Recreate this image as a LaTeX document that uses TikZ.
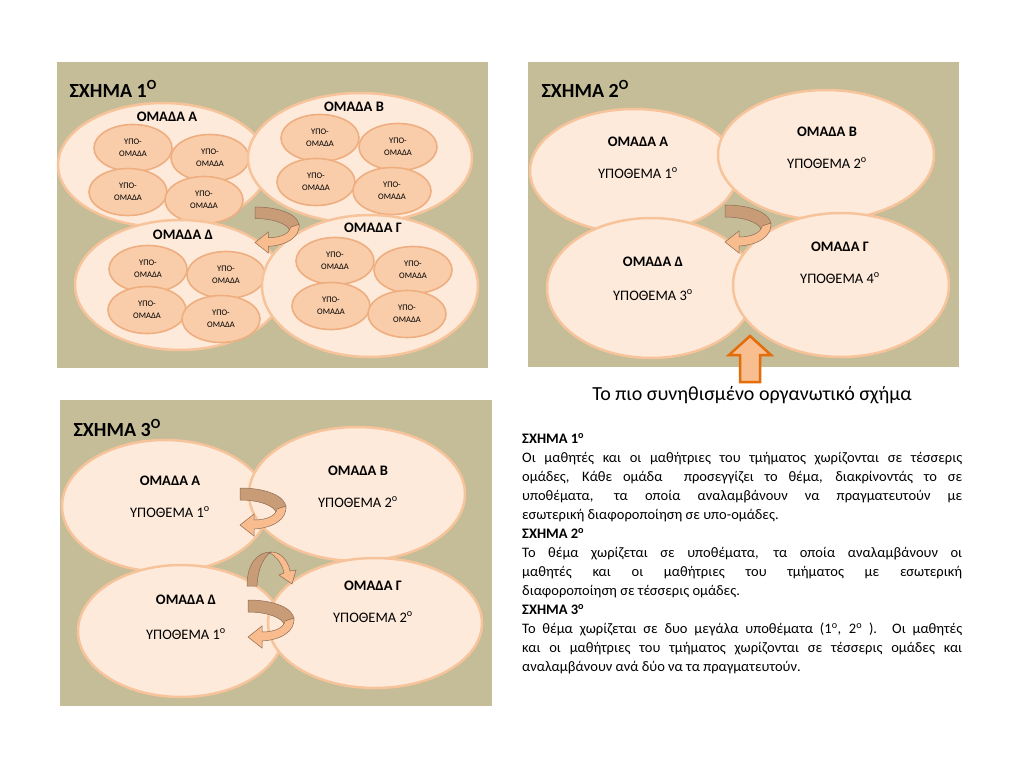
\documentclass[tikz,border=0pt]{standalone}
\usepackage{fontspec}
\setmainfont{Carlito}
\usetikzlibrary{shapes.geometric}
\definecolor{panelbg}{HTML}{C4BD97}
\definecolor{grpfill}{HTML}{FDEADA}
\definecolor{grpline}{HTML}{F7C39A}
\definecolor{subfill}{HTML}{F9CDAA}
\definecolor{subline}{HTML}{EEAE80}
\definecolor{arrdark}{HTML}{C99C78}
\definecolor{arrlight}{HTML}{F9BC8E}
\definecolor{arredge}{HTML}{8E6B52}
\definecolor{upline}{HTML}{E46C0A}
\definecolor{upfill}{HTML}{F9BE8F}
\hyphenpenalty=10000
\exhyphenpenalty=10000
\tikzset{
  panel/.style={fill=panelbg,draw=none},
  group/.style={ellipse,draw=grpline,line width=2.5pt,fill=grpfill,inner sep=0pt},
  sub/.style={ellipse,draw=subline,line width=1.6pt,fill=subfill,inner sep=0pt,
    minimum width=78pt,minimum height=47pt,align=center,
    font=\fontsize{8.5}{11.5}\selectfont},
  title/.style={anchor=west,font=\fontsize{20}{24}\selectfont\bfseries},
  grplabel/.style={font=\fontsize{14.5}{17}\selectfont\bfseries},
  topic/.style={font=\fontsize{14.5}{17}\selectfont},
  body/.style={anchor=north west,inner sep=0pt,text width=440pt,align=justify,
    font=\fontsize{14.5}{19}\selectfont},
  uturn/.pic={
    \filldraw[fill=arrdark,draw=arredge,line width=0.5pt]
      (0,0) .. controls (26,0) and (46,8) .. (46,20) -- (36,24)
      .. controls (34,18) and (20,12) .. (0,12) -- cycle;
    \filldraw[fill=arrlight,draw=arredge,line width=0.5pt]
      (46,18) .. controls (47,32) and (32,40) .. (14,41) -- (14,48) -- (0,37)
      -- (14,26) -- (14,32) .. controls (26,32) and (36,28) .. (37,21) -- cycle;
  },
  arch/.pic={
    \filldraw[fill=arrdark,draw=arredge,line width=0.5pt]
      (0,34) .. controls (0,12) and (10,0) .. (24,0)
      .. controls (18,4) and (11,14) .. (10,34) -- cycle;
    \filldraw[fill=arrlight,draw=arredge,line width=0.5pt]
      (22,0.5) .. controls (32,-2) and (41,8) .. (43,19) -- (49,18) -- (45,32)
      -- (32,23) -- (37,21) .. controls (35,11) and (29,4) .. (22,0.5) -- cycle;
  },
}
\begin{document}
\begin{tikzpicture}[x=1pt,y=-1pt]
  \useasboundingbox (0,0) rectangle (1024,768);
  \fill[white] (0,0) rectangle (1024,768);

  % panel 1
  \fill[panel] (57,62) rectangle (488,368);
  \node[title] (t1) at (66,89) {ΣΧΗΜΑ 1\textsuperscript{Ο}};
  \node[group,minimum width=210pt,minimum height=124pt] (p1A) at (163,165) {};
  \node[grplabel] (p1Al) at (167,117) {ΟΜΑΔΑ Α};
  \node[sub] (p1A1) at (133,148) {ΥΠΟ-\\ΟΜΑΔΑ};
  \node[sub] (p1A2) at (210,158) {ΥΠΟ-\\ΟΜΑΔΑ};
  \node[sub] (p1A3) at (128,192) {ΥΠΟ-\\ΟΜΑΔΑ};
  \node[sub] (p1A4) at (204,200) {ΥΠΟ-\\ΟΜΑΔΑ};
  \node[group,minimum width=224pt,minimum height=130pt] (p1B) at (360,158) {};
  \node[grplabel] (p1Bl) at (354,107) {ΟΜΑΔΑ Β};
  \node[sub] (p1B1) at (320,138) {ΥΠΟ-\\ΟΜΑΔΑ};
  \node[sub] (p1B2) at (398,147) {ΥΠΟ-\\ΟΜΑΔΑ};
  \node[sub] (p1B3) at (316,182) {ΥΠΟ-\\ΟΜΑΔΑ};
  \node[sub] (p1B4) at (392,191) {ΥΠΟ-\\ΟΜΑΔΑ};
  \node[group,minimum width=210pt,minimum height=130pt] (p1D) at (180,285) {};
  \node[grplabel] (p1Dl) at (183,235) {ΟΜΑΔΑ Δ};
  \node[sub] (p1D1) at (148,269) {ΥΠΟ-\\ΟΜΑΔΑ};
  \node[sub] (p1D2) at (226,275) {ΥΠΟ-\\ΟΜΑΔΑ};
  \node[sub] (p1D3) at (147,310) {ΥΠΟ-\\ΟΜΑΔΑ};
  \node[sub] (p1D4) at (221,319) {ΥΠΟ-\\ΟΜΑΔΑ};
  \node[group,minimum width=216pt,minimum height=142pt] (p1G) at (370,286) {};
  \node[grplabel] (p1Gl) at (373,228) {ΟΜΑΔΑ Γ};
  \node[sub] (p1G1) at (335,261) {ΥΠΟ-\\ΟΜΑΔΑ};
  \node[sub] (p1G2) at (413,270) {ΥΠΟ-\\ΟΜΑΔΑ};
  \node[sub] (p1G3) at (331,306) {ΥΠΟ-\\ΟΜΑΔΑ};
  \node[sub] (p1G4) at (407,314) {ΥΠΟ-\\ΟΜΑΔΑ};
  \pic[scale=0.96] at (255,207) {uturn};

  % panel 2
  \fill[panel] (528,62) rectangle (959,367);
  \node[title] (t2) at (538,89) {ΣΧΗΜΑ 2\textsuperscript{Ο}};
  \node[group,minimum width=208pt,minimum height=124pt] (p2A) at (634,171) {};
  \node[group,minimum width=216pt,minimum height=130pt] (p2B) at (826,155) {};
  \node[group,minimum width=208pt,minimum height=140pt] (p2D) at (651,288) {};
  \node[group,minimum width=216pt,minimum height=144pt] (p2G) at (841,285) {};
  \node[grplabel] (p2Al) at (638,142) {ΟΜΑΔΑ Α};
  \node[topic] (p2At) at (638,173) {ΥΠΟΘΕΜΑ 1\textsuperscript{ο}};
  \node[grplabel] (p2Bl) at (827,132) {ΟΜΑΔΑ Β};
  \node[topic] (p2Bt) at (827,163) {ΥΠΟΘΕΜΑ 2\textsuperscript{ο}};
  \node[grplabel] (p2Dl) at (653,262) {ΟΜΑΔΑ Δ};
  \node[topic] (p2Dt) at (653,295) {ΥΠΟΘΕΜΑ 3\textsuperscript{ο}};
  \node[grplabel] (p2Gl) at (840,247) {ΟΜΑΔΑ Γ};
  \node[topic] (p2Gt) at (840,278) {ΥΠΟΘΕΜΑ 4\textsuperscript{ο}};
  \pic at (725,205) {uturn};
  \filldraw[fill=upfill,draw=upline,line width=2.5pt,line join=miter]
    (750,336) -- (771,355) -- (760,355) -- (760,382) -- (740,382)
    -- (740,355) -- (729,355) -- cycle;
  \node[font=\fontsize{20}{24}\selectfont] (cap) at (752,395)
    {Το πιο συνηθισμένο οργανωτικό σχήμα};

  % panel 3
  \fill[panel] (60,400) rectangle (492,706);
  \node[title] (t3) at (70,428) {ΣΧΗΜΑ 3\textsuperscript{Ο}};
  \node[group,minimum width=206pt,minimum height=132pt] (p3A) at (165,506) {};
  \node[group,minimum width=216pt,minimum height=134pt] (p3B) at (357,494) {};
  \node[group,minimum width=206pt,minimum height=132pt] (p3D) at (181,631) {};
  \node[group,minimum width=214pt,minimum height=130pt] (p3G) at (375,623) {};
  \node[grplabel] (p3Al) at (170,481) {ΟΜΑΔΑ Α};
  \node[topic] (p3At) at (170,512) {ΥΠΟΘΕΜΑ 1\textsuperscript{ο}};
  \node[grplabel] (p3Bl) at (358,471) {ΟΜΑΔΑ Β};
  \node[topic] (p3Bt) at (358,502) {ΥΠΟΘΕΜΑ 2\textsuperscript{ο}};
  \node[grplabel] (p3Dl) at (186,600) {ΟΜΑΔΑ Δ};
  \node[topic] (p3Dt) at (186,634) {ΥΠΟΘΕΜΑ 1\textsuperscript{ο}};
  \node[grplabel] (p3Gl) at (373,586) {ΟΜΑΔΑ Γ};
  \node[topic] (p3Gt) at (373,617) {ΥΠΟΘΕΜΑ 2\textsuperscript{ο}};
  \pic at (240,488) {uturn};
  \pic at (247,552) {arch};
  \pic at (248,600) {uturn};

  % explanation
  \node[body] (txt) at (522,433) {%
    {\bfseries ΣΧΗΜΑ 1\textsuperscript{ο}}\\
    Οι μαθητές και οι μαθήτριες του τμήματος χωρίζονται σε τέσσερις\linebreak
    ομάδες, Κάθε ομάδα \ προσεγγίζει το θέμα, διακρίνοντάς το σε\linebreak
    υποθέματα, τα οποία αναλαμβάνουν να πραγματευτούν με\linebreak
    εσωτερική διαφοροποίηση σε υπο-ομάδες.\\
    {\bfseries ΣΧΗΜΑ 2\textsuperscript{ο}}\\
    Το θέμα χωρίζεται σε υποθέματα, τα οποία αναλαμβάνουν οι\linebreak
    μαθητές και οι μαθήτριες του τμήματος με εσωτερική\linebreak
    διαφοροποίηση σε τέσσερις ομάδες.\\
    {\bfseries ΣΧΗΜΑ 3\textsuperscript{ο}}\\
    Το θέμα χωρίζεται σε δυο μεγάλα υποθέματα (1\textsuperscript{ο}, 2\textsuperscript{ο} ). Οι μαθητές\linebreak
    και οι μαθήτριες του τμήματος χωρίζονται σε τέσσερις ομάδες και\linebreak
    αναλαμβάνουν ανά δύο να τα πραγματευτούν.};
\end{tikzpicture}
\end{document}
